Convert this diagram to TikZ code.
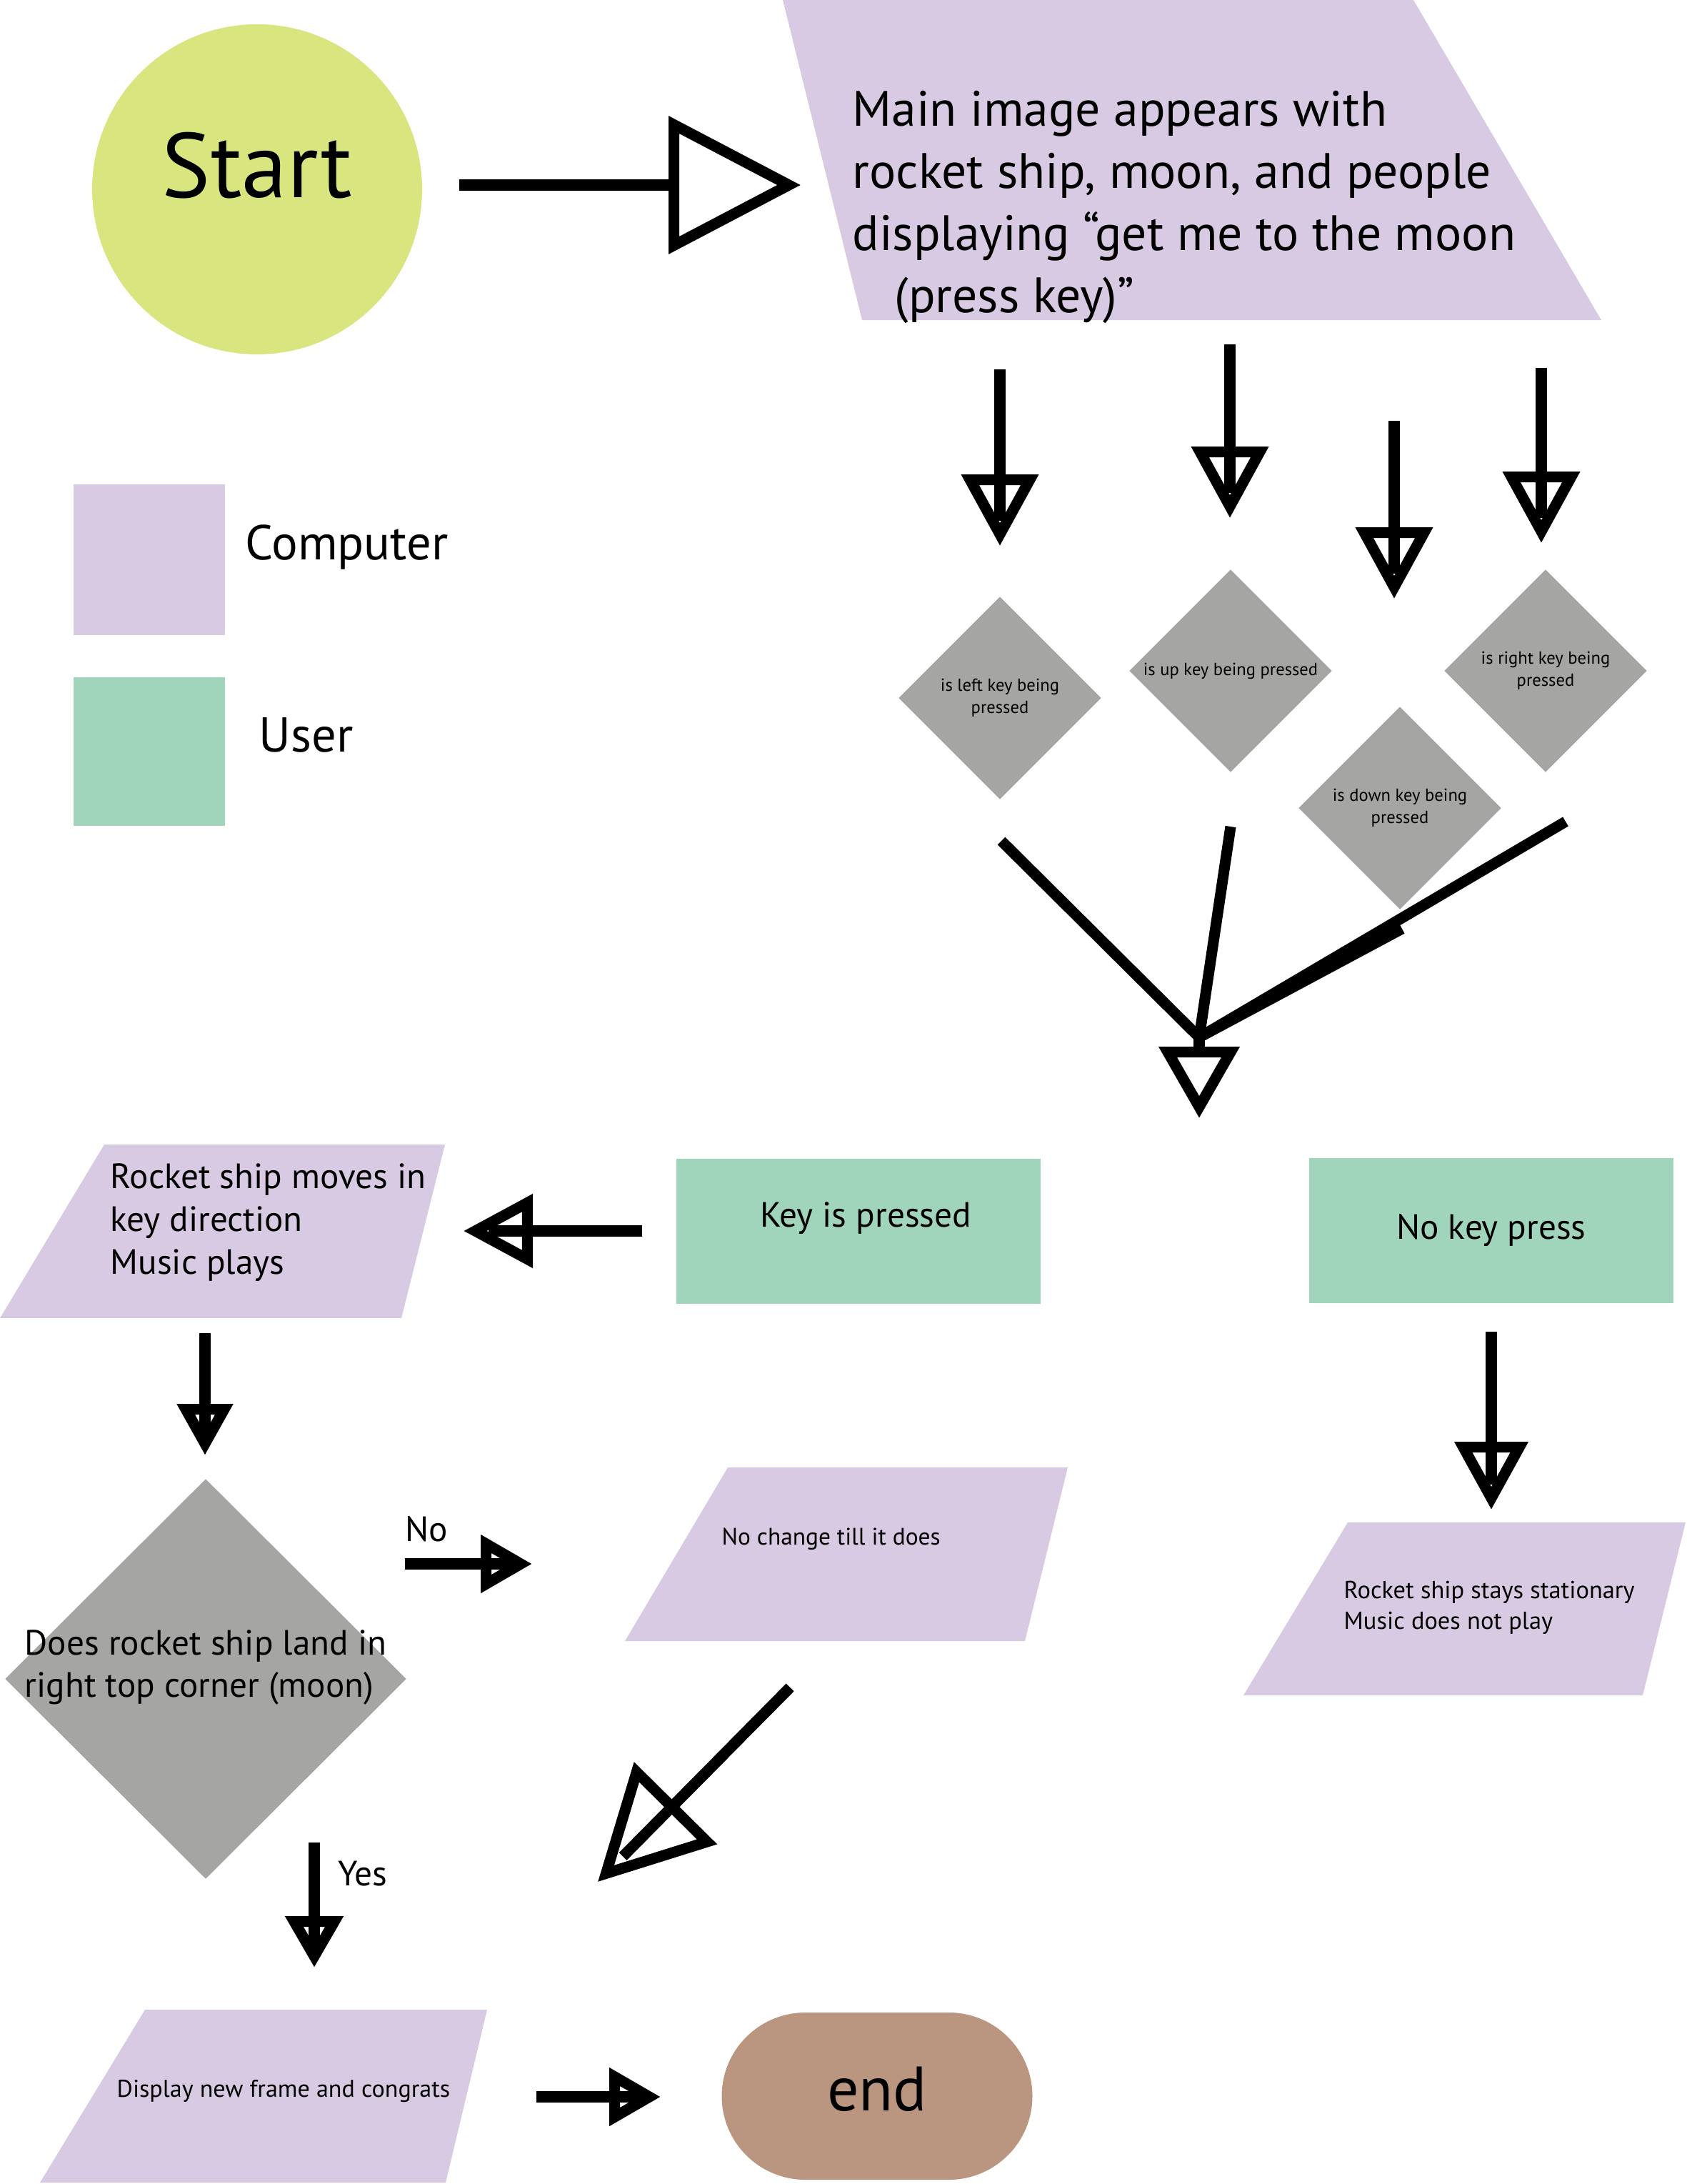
\documentclass[tikz,border=0pt]{standalone}
\usepackage{fontspec}
\setmainfont{PT Sans}
\usetikzlibrary{shapes.geometric,arrows.meta}
\definecolor{compfill}{HTML}{D8CAE3}
\definecolor{userfill}{HTML}{A0D5BB}
\definecolor{decfill}{HTML}{A5A5A4}
\definecolor{startfill}{HTML}{D9E57E}
\definecolor{endfill}{HTML}{BA957F}
\tikzset{
  flow/.style={draw, line width=4.3pt},
  head/.style 2 args={-{Triangle[open, length=#1, width=#2]}},
  thru/.style={postaction={draw, -, shorten >=#1}},
  decision/.style={diamond, fill=decfill, inner sep=0pt, align=center,
    minimum width=2.84cm, minimum height=2.84cm, font=\fontsize{7}{8.8}\selectfont},
  userbox/.style={rectangle, fill=userfill, inner sep=0pt,
    minimum width=5.10cm, minimum height=2.03cm, font=\fontsize{14}{17}\selectfont},
  txt/.style={anchor=base west, align=left, inner sep=0pt},
}
\begin{document}
\begin{tikzpicture}[x=1cm, y=-1cm]
    \useasboundingbox (0,0) rectangle (23.61,30.57);

    \node (start) [circle, fill=startfill, minimum size=4.62cm, inner sep=0pt,
      label={[font=\fontsize{36.5}{44}\selectfont, yshift=0.33cm]center:Start}] at (3.60,2.65) {};
    \fill[compfill] (10.96,0) -- (19.79,0) -- (22.42,4.48) -- (12.07,4.48) -- cycle;
    \node (main_image) [txt, font=\fontsize{19.8}{24.7}\selectfont] at (11.93,4.37)
      {Main image appears with\\rocket ship, moon, and people\\displaying “get me to the moon\\\hspace*{0.59cm}(press key)”};

    \node (comp_key) [rectangle, fill=compfill, minimum width=2.12cm, minimum height=2.11cm, inner sep=0pt] at (2.09,7.835) {};
    \node (comp_txt) [txt, font=\fontsize{19.5}{23}\selectfont] at (3.43,7.83) {Computer};
    \node (user_key) [userbox, minimum width=2.12cm, minimum height=2.08cm] at (2.09,10.52) {};
    \node (user_txt) [txt, font=\fontsize{19.5}{23}\selectfont] at (3.62,10.52) {User};

    \coordinate (s_out) at (6.43,2.59);
    \coordinate (s_in) at (11.21,2.59);
    \path (s_out) edge[flow, head={1.85cm}{1.9cm}] (s_in);

    \coordinate (a1_out) at (14.00,5.17);
    \coordinate (a1_in) at (14.00,7.64);
    \coordinate (a2_out) at (17.22,4.82);
    \coordinate (a2_in) at (17.22,7.25);
    \coordinate (a3_out) at (19.52,5.89);
    \coordinate (a3_in) at (19.52,8.38);
    \coordinate (a4_out) at (21.58,5.15);
    \coordinate (a4_in) at (21.58,7.60);
    \path (a1_out) edge[flow, head={1.0cm}{1.05cm}, thru=0.35cm] (a1_in);
    \path (a2_out) edge[flow, head={1.0cm}{1.05cm}, thru=0.35cm] (a2_in);
    \path (a3_out) edge[flow, head={1.0cm}{1.05cm}, thru=0.35cm] (a3_in);
    \path (a4_out) edge[flow, head={1.0cm}{1.05cm}, thru=0.35cm] (a4_in);

    \node (left_key) [decision] at (14.00,9.77) {is left key being\\pressed};
    \node (up_key) [decision] at (17.23,9.39) {is up key being pressed};
    \node (right_key) [decision] at (21.64,9.39) {is right key being\\pressed};
    \node (down_key) [decision] at (19.60,11.31) {is down key being\\pressed};

    \coordinate (m_left) at (14.02,11.77);
    \coordinate (m_up) at (17.23,11.57);
    \coordinate (m_right) at (21.92,11.50);
    \coordinate (m_down) at (19.63,13.00);
    \coordinate (merge) at (16.79,14.52);
    \coordinate (merge_tip) at (16.79,15.65);
    \path (m_left) edge[flow] (merge);
    \path (m_up) edge[flow] (merge);
    \path (m_right) edge[flow] (merge);
    \path (m_down) edge[flow] (merge);
    \path (merge) edge[flow, head={1.0cm}{1.1cm}] (merge_tip);

    \node (key_yes) [userbox, label={[font=\fontsize{14}{17}\selectfont, xshift=0.1cm, yshift=0.18cm]center:Key is pressed}] at (12.02,17.235) {};
    \node (key_no) [userbox] at (20.88,17.225) {No key press};

    \coordinate (k_out) at (8.99,17.23);
    \coordinate (k_in) at (6.49,17.23);
    \path (k_out) edge[flow, head={0.97cm}{1.0cm}, thru=0.35cm] (k_in);

    \fill[compfill] (1.46,16.02) -- (6.23,16.02) -- (5.62,18.45) -- (0,18.45) -- cycle;
    \node (moves) [txt, font=\fontsize{14}{17}\selectfont] at (1.54,17.83) {Rocket ship moves in\\key direction\\Music plays};

    \coordinate (r_out) at (2.87,18.66);
    \coordinate (r_in) at (2.87,20.37);
    \path (r_out) edge[flow, head={0.72cm}{0.75cm}, thru=0.3cm] (r_in);

    \node (land) [decision, minimum width=5.62cm, minimum height=5.60cm,
      label={[align=left, font=\fontsize{14}{16.7}\selectfont, yshift=0.16cm]center:Does rocket ship land in\\right top corner (moon)}] at (2.88,23.50) {};

    \node (no_lbl) [txt, font=\fontsize{14}{17}\selectfont] at (5.67,21.57) {No};
    \coordinate (n_out) at (5.67,21.89);
    \coordinate (n_in) at (7.45,21.89);
    \path (n_out) edge[flow, head={0.72cm}{0.78cm}, thru=0.3cm] (n_in);

    \fill[compfill] (10.19,20.54) -- (14.95,20.54) -- (14.35,22.97) -- (8.75,22.97) -- cycle;
    \node (no_change) [txt, font=\fontsize{9.5}{12}\selectfont] at (10.10,21.62) {No change till it does};

    \coordinate (d_out) at (11.06,23.62);
    \coordinate (d_in) at (8.37,26.34);
    \path (d_out) edge[flow, head={1.55cm}{1.6cm}, thru=0.5cm] (d_in);

    \coordinate (nk_out) at (20.88,18.64);
    \coordinate (nk_in) at (20.88,21.13);
    \path (nk_out) edge[flow, head={0.95cm}{1.0cm}, thru=0.35cm] (nk_in);

    \fill[compfill] (18.87,21.31) -- (23.60,21.31) -- (23.00,23.73) -- (17.41,23.73) -- cycle;
    \node (stays) [txt, font=\fontsize{9.8}{12}\selectfont] at (18.81,22.80) {Rocket ship stays stationary\\Music does not play};

    \node (yes_lbl) [txt, font=\fontsize{14}{17}\selectfont] at (4.73,26.39) {Yes};
    \coordinate (y_out) at (4.40,25.79);
    \coordinate (y_in) at (4.40,27.54);
    \path (y_out) edge[flow, head={0.72cm}{0.78cm}, thru=0.3cm] (y_in);

    \fill[compfill] (2.03,28.13) -- (6.82,28.13) -- (6.24,30.55) -- (0.56,30.55) -- cycle;
    \node (congrats) [txt, font=\fontsize{9.7}{12}\selectfont] at (1.63,29.35) {Display new frame and congrats};

    \coordinate (e_out) at (7.51,29.35);
    \coordinate (e_in) at (9.25,29.35);
    \path (e_out) edge[flow, head={0.72cm}{0.78cm}, thru=0.3cm] (e_in);

    \node (end) [rectangle, rounded corners=1.17cm, fill=endfill, minimum width=4.35cm, minimum height=2.34cm,
      inner sep=0pt, text depth=0.2cm, font=\fontsize{25}{30}\selectfont] at (12.28,29.34) {end};
\end{tikzpicture}
\end{document}
